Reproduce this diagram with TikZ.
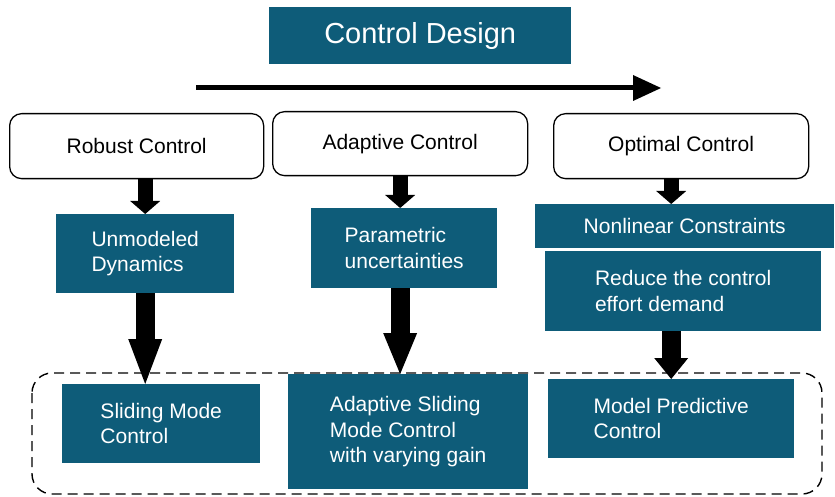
\documentclass[tikz,border=0pt]{standalone}
\usepackage{fontspec}
\setmainfont{Liberation Sans}
\usetikzlibrary{arrows.meta,calc}
\definecolor{boxblue}{RGB}{14,92,121}
\begin{document}
\begin{tikzpicture}[x=1pt,y=-1pt,
  fillbox/.style={fill=boxblue, text=white, inner sep=0pt, anchor=north west,
    align=left, font=\fontsize{21}{25.5}\selectfont},
  roundbox/.style={draw, line width=1.3pt, rounded corners=12pt, inner sep=0pt,
    anchor=north west, font=\fontsize{21}{25}\selectfont},
  smallarrow/.style={line width=15pt, -{Triangle[width=30pt,length=13pt,line width=0pt]}},
  bigarrow/.style={line width=19pt, -{Triangle[width=34pt,length=#1,line width=0pt]}},
  flowarrow/.style={line width=5pt, -{Triangle[width=26pt,length=28pt,line width=0pt]}}
]
\useasboundingbox (0,0) rectangle (835,497);

% group frame around the resulting controllers
\draw[line width=1.4pt, dash pattern=on 10pt off 6pt, rounded corners=20pt]
  (32,373) rectangle (822,494);

% title and design direction
\node[fillbox, minimum width=302pt, minimum height=57pt,
  font=\fontsize{29}{34}\selectfont] (title) at (269,7) {Control Design};
\coordinate (flowstart) at (196,88);
\coordinate (flowend) at (661,88);
\draw[flowarrow] (flowstart) -- (flowend);

% control approaches
\node[roundbox, minimum width=254pt, minimum height=65pt] (robust) at (9,113) {Robust Control};
\node[roundbox, minimum width=255pt, minimum height=64pt] (adapt) at (272,111) {Adaptive Control};
\node[roundbox, minimum width=255pt, minimum height=65pt] (optim) at (553,113) {Optimal Control};

% issues addressed
\node[fillbox, minimum width=178pt, minimum height=79pt] (unmod) at (56,214) {Unmodeled\\Dynamics};
\node[fillbox, minimum width=186pt, minimum height=80pt] (param) at (311,208) {Parametric\\uncertainties};
\node[fillbox, minimum width=299pt, minimum height=44pt] (nonlin) at (535,204) {Nonlinear Constraints};
\node[fillbox, minimum width=276pt, minimum height=80pt] (reduce) at (545,251) {Reduce the control\\effort demand};

% resulting controllers
\node[fillbox, minimum width=198pt, minimum height=79pt] (smc) at (62,384) {Sliding Mode\\Control};
\node[fillbox, minimum width=240pt, minimum height=115pt] (asmc) at (288,374) {Adaptive Sliding\\Mode Control\\with varying gain};
\node[fillbox, minimum width=246pt, minimum height=79pt] (mpc) at (548,379) {Model Predictive\\Control};

% connectors
\draw[smallarrow] (robust.south -| unmod.north) -- (unmod.north);
\draw[smallarrow] (adapt.south) -- (adapt.south |- param.north);
\draw[smallarrow] (optim.south -| mpc.north) -- (nonlin.north -| mpc.north);

\draw[bigarrow=45pt] (unmod.south) -- (unmod.south |- smc.north);
\draw[bigarrow=41pt] (param.south -| adapt.south) -- (asmc.north -| adapt.south);
\draw[bigarrow=21pt] (reduce.south -| mpc.north) -- (mpc.north);
\end{tikzpicture}
\end{document}
